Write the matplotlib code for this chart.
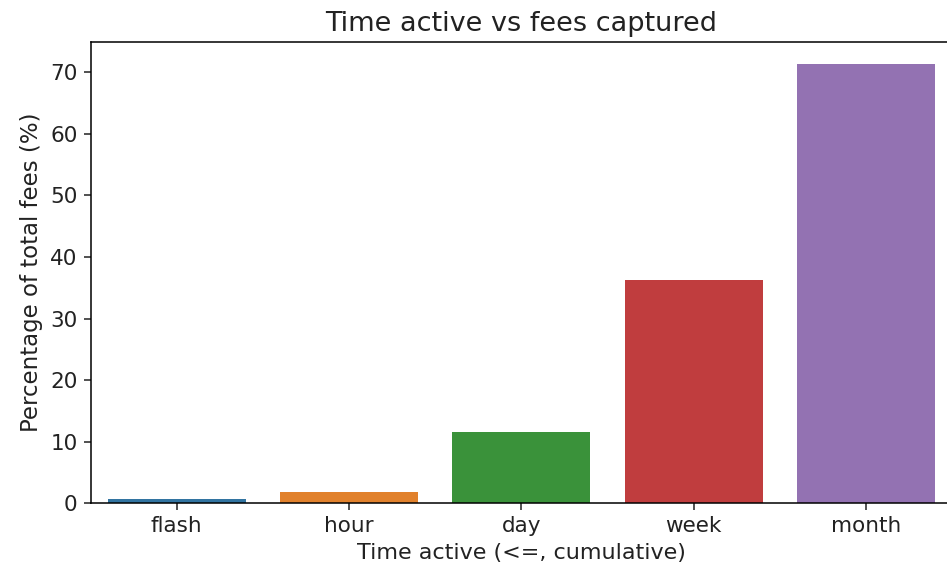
import numpy as np
import pandas as pd
import seaborn as sns
import matplotlib
matplotlib.use("Agg")
import matplotlib.pyplot as plt

categories = ["flash", "hour", "day", "week", "month"]
fee_pct = [0.7, 1.8, 11.6, 36.3, 71.3]

df = pd.DataFrame({"time_active": categories, "pct": fee_pct})

# reference looks like a default plot blown up ~1.35x
plt.rcParams["axes.linewidth"] = 1.1
plt.rcParams["xtick.major.size"] = 4.8
plt.rcParams["ytick.major.size"] = 4.8
plt.rcParams["xtick.major.width"] = 1.1
plt.rcParams["ytick.major.width"] = 1.1
plt.rcParams["xtick.major.pad"] = 4.5
plt.rcParams["ytick.major.pad"] = 4.5

fig = plt.figure(figsize=(9.47, 5.73), dpi=100)
ax = fig.add_axes([0.0956, 0.1216, 0.91, 0.805])

sns.barplot(data=df, x="time_active", y="pct", hue="time_active",
            palette="tab10", saturation=0.75, legend=False, ax=ax)

ax.set_ylim(0, 74.9)
ax.set_xlim(-0.5, 4.5)
ax.tick_params(labelsize=15.5, colors="#222222", labelcolor="#222222")
ax.set_title("Time active vs fees captured", fontsize=19.5, pad=8, color="#222222")
ax.set_xlabel("Time active (<=, cumulative)", fontsize=16, labelpad=5, color="#222222")
ax.set_ylabel("Percentage of total fees (%)", fontsize=16.5, labelpad=5, color="#222222")

fig.savefig("out.png", dpi=100)
